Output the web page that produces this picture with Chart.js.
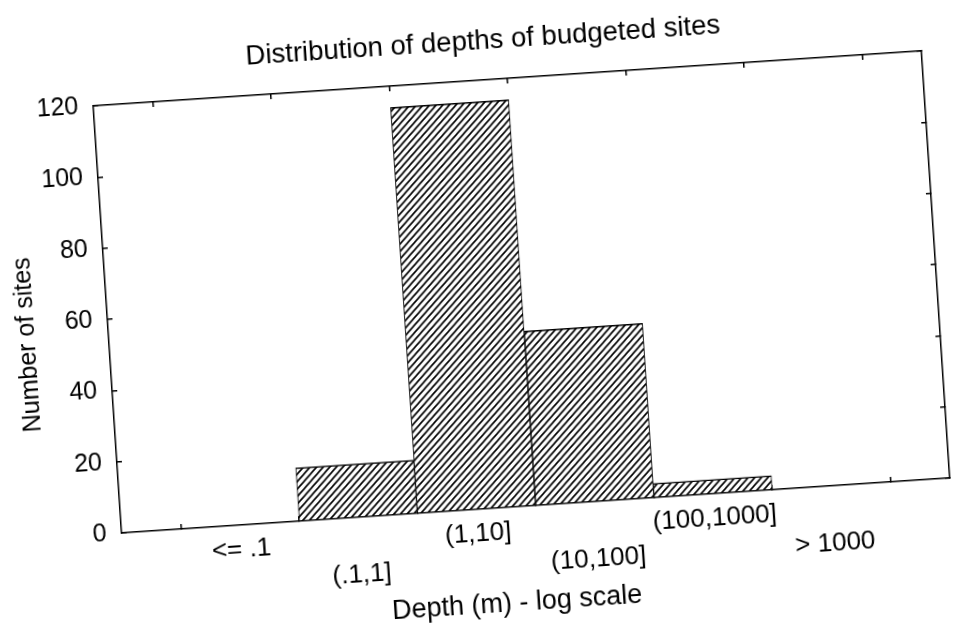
<!DOCTYPE html>
<html>
<head>
<meta charset="utf-8">
<script src="https://cdn.jsdelivr.net/npm/chart.js@4/dist/chart.umd.min.js"></script>
<style>
    html, body { margin: 0; padding: 0; background: #fff; overflow: hidden; }
    #wrap { width: 953px; height: 630px; transform: rotate(-3.8deg); }
    canvas { display: block; }
</style>
</head>
<body>
<div id="wrap"><canvas id="chart" width="953" height="630"></canvas></div>
<script>
// Histogram of site depths (scanned figure, slightly tilted)

const depthBins = ['<= .1', '(.1,1]', '(1,10]', '(10,100]', '(100,1000]', '> 1000'];
const siteCounts = [0, 15, 114, 49, 4, 0];
const countTicks = [0, 20, 40, 60, 80, 100, 120];
const chartTitle = 'Distribution of depths of budgeted sites';
const xTitle = 'Depth (m) - log scale';
const yTitle = 'Number of sites';

const FONT = "'Liberation Sans', Arial, sans-serif";
Chart.defaults.font.family = FONT;
Chart.defaults.color = '#000';

function hatchPattern() {
    const tile = document.createElement('canvas');
    tile.width = 7;
    tile.height = 7;
    const c = tile.getContext('2d');
    c.fillStyle = '#fff';
    c.fillRect(0, 0, 7, 7);
    c.strokeStyle = '#000';
    c.lineWidth = 1.6;
    c.beginPath();
    c.moveTo(-1, 8); c.lineTo(8, -1);
    c.moveTo(-1, 1); c.lineTo(1, -1);
    c.moveTo(6, 8); c.lineTo(8, 6);
    c.stroke();
    return c.createPattern(tile, 'repeat');
}

// titles sit off-centre in the original, so they are placed by hand
const textLayer = {
    id: 'textLayer',
    afterDraw(chart) {
        const { ctx, chartArea: a } = chart;
        ctx.save();
        ctx.fillStyle = '#000';
        ctx.textAlign = 'center';
        ctx.textBaseline = 'middle';
        ctx.font = '27.5px ' + FONT;
        ctx.fillText(chartTitle, a.left + 393, a.top - 39);
        ctx.font = '27px ' + FONT;
        ctx.fillText(xTitle, a.left + 390, a.bottom + 97);
        ctx.translate(a.left - 81, a.top + 234);
        ctx.rotate(-Math.PI / 2);
        ctx.font = '25px ' + FONT;
        ctx.fillText(yTitle, 0, 0);
        ctx.restore();
    }
};

const binTicks = s => { s.ticks = depthBins.map((b, i) => ({ value: i + 1 })); };
const countTickList = s => { s.ticks = countTicks.map(v => ({ value: v })); };

const axisLine = { color: '#000', width: 1.5 };
const innerTicks = { drawOnChartArea: false, tickLength: -5, color: '#000', lineWidth: 1.5 };

new Chart(document.getElementById('chart'), {
    type: 'bar',
    data: {
        datasets: [{
            data: depthBins.map((b, i) => ({ x: i + 1, y: siteCounts[i] })),
            backgroundColor: hatchPattern(),
            borderColor: '#000',
            borderWidth: { top: 1.5, left: 1, right: 1, bottom: 0 },
            barPercentage: 1,
            categoryPercentage: 1,
            xAxisID: 'x',
            yAxisID: 'y'
        }]
    },
    options: {
        responsive: false,
        animation: false,
        layout: { padding: { top: 81, left: 0, right: 0, bottom: 0 } },
        plugins: {
            legend: { display: false },
            tooltip: { enabled: false },
            title: { display: false }
        },
        scales: {
            x: {
                type: 'linear', position: 'bottom', min: 0, max: 7, offset: false,
                afterBuildTicks: binTicks,
                afterFit: s => { s.height = 121; },
                grid: innerTicks,
                border: axisLine,
                ticks: {
                    autoSkip: false, maxRotation: 0, minRotation: 0, padding: 13.5,
                    font: { size: 26, lineHeight: 1.27 },
                    callback: (v, i) => i % 2 ? ['', depthBins[i]] : depthBins[i]
                }
            },
            x2: {
                type: 'linear', position: 'top', min: 0, max: 7, offset: false,
                afterBuildTicks: binTicks,
                afterFit: s => { s.height = 0; },
                grid: innerTicks,
                border: axisLine,
                ticks: { display: false }
            },
            y: {
                type: 'linear', position: 'left', min: 0, max: 120,
                afterBuildTicks: countTickList,
                afterFit: s => { s.width = 108; },
                grid: innerTicks,
                border: axisLine,
                ticks: { padding: 20, font: { size: 25 } }
            },
            y2: {
                type: 'linear', position: 'right', min: 0, max: 120,
                afterBuildTicks: countTickList,
                afterFit: s => { s.width = 15; },
                grid: innerTicks,
                border: axisLine,
                ticks: { display: false }
            }
        }
    },
    plugins: [textLayer]
});
</script>
</body>
</html>
